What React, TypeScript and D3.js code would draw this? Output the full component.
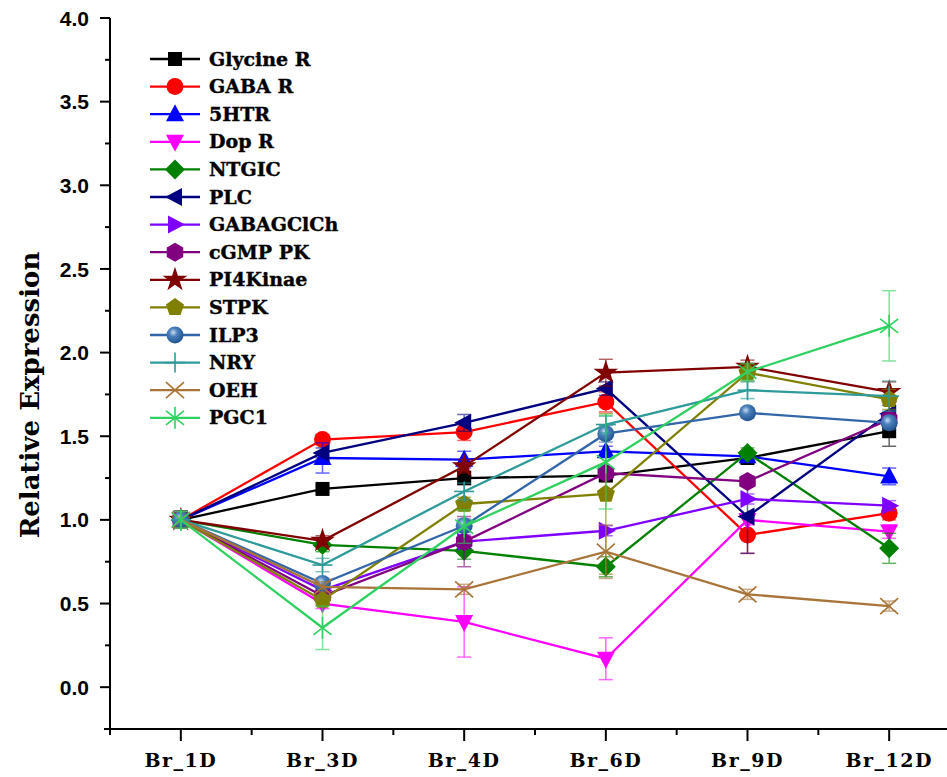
import React from 'react';
import * as d3 from 'd3';

const days = ['Br_1D', 'Br_3D', 'Br_4D', 'Br_6D', 'Br_9D', 'Br_12D'];

const seriesNames = ['Glycine R', 'GABA R', '5HTR', 'Dop R', 'NTGIC', 'PLC', 'GABAGClCh',
  'cGMP PK', 'PI4Kinae', 'STPK', 'ILP3', 'NRY', 'OEH', 'PGC1'];

const glycineR = [1.0, 1.185, 1.25, 1.265, 1.37, 1.53];
const gabaR = [1.0, 1.48, 1.525, 1.705, 0.91, 1.04];
const htr5 = [1.0, 1.37, 1.36, 1.41, 1.38, 1.26];
const dopR = [1.0, 0.5, 0.39, 0.17, 1.0, 0.93];
const ntgic = [1.0, 0.85, 0.815, 0.72, 1.4, 0.83];
const plc = [1.0, 1.4, 1.58, 1.785, 1.02, 1.635];
const gabagclch = [1.0, 0.58, 0.87, 0.935, 1.125, 1.085];
const cgmpPK = [1.0, 0.545, 0.87, 1.28, 1.23, 1.6];
const pi4kinae = [1.0, 0.875, 1.32, 1.88, 1.915, 1.765];
const stpk = [1.0, 0.52, 1.095, 1.155, 1.88, 1.72];
const ilp3 = [1.0, 0.62, 0.965, 1.515, 1.64, 1.58];
const nry = [1.0, 0.73, 1.17, 1.57, 1.775, 1.74];
const oeh = [1.0, 0.6, 0.585, 0.81, 0.555, 0.485];
const pgc1 = [1.0, 0.355, 0.96, 1.345, 1.885, 2.16];

const glycineRErr = [0.05, 0.02, 0.04, 0.03, 0.03, 0.09];
const gabaRErr = [0.05, 0.03, 0.05, 0.06, 0.11, 0.04];
const htr5Err = [0.05, 0.09, 0.05, 0.03, 0.03, 0.05];
const dopRErr = [0.05, 0.03, 0.21, 0.125, 0.03, 0.04];
const ntgicErr = [0.05, 0.04, 0.05, 0.06, 0.03, 0.09];
const plcErr = [0.05, 0.03, 0.05, 0.04, 0.22, 0.05];
const gabagclchErr = [0.05, 0.03, 0.04, 0.03, 0.03, 0.03];
const cgmpPKErr = [0.05, 0.03, 0.15, 0.03, 0.03, 0.04];
const pi4kinaeErr = [0.05, 0.03, 0.04, 0.08, 0.04, 0.06];
const stpkErr = [0.05, 0.03, 0.04, 0.48, 0.05, 0.06];
const ilp3Err = [0.05, 0.03, 0.04, 0.05, 0.03, 0.04];
const nryErr = [0.05, 0.04, 0.05, 0.05, 0.05, 0.09];
const oehErr = [0.05, 0.03, 0.03, 0.16, 0.03, 0.03];
const pgc1Err = [0.05, 0.13, 0.1, 0.28, 0.05, 0.21];

const allValues = [glycineR, gabaR, htr5, dopR, ntgic, plc, gabagclch, cgmpPK, pi4kinae, stpk, ilp3, nry, oeh, pgc1];
const allErrors = [glycineRErr, gabaRErr, htr5Err, dopRErr, ntgicErr, plcErr, gabagclchErr, cgmpPKErr,
  pi4kinaeErr, stpkErr, ilp3Err, nryErr, oehErr, pgc1Err];

const colors = ['#000000', '#ff0000', '#0000ff', '#ff00ff', '#008000', '#000080', '#8000ff',
  '#800080', '#800000', '#808000', '#3366a8', '#2e9a9a', '#a8743a', '#2fd160'];
const shapes = ['square', 'circle', 'triUp', 'triDown', 'diamond', 'triLeft', 'triRight',
  'hexagon', 'star', 'pentagon', 'sphere', 'plus', 'cross', 'asterisk'];

const yTicks = [0, 0.5, 1, 1.5, 2, 2.5, 3, 3.5, 4];

const W = 947;
const H = 777;

const poly = (n: number, r: number, start: number) =>
  d3.range(n).map(i => {
    const a = (start + (360 / n) * i) * Math.PI / 180;
    return `${r * Math.cos(a)},${r * Math.sin(a)}`;
  }).join(' ');

function Marker({ shape, color, x, y }: { shape: string; color: string; x: number; y: number }) {
  const t = `translate(${x},${y})`;
  switch (shape) {
    case 'square':
      return <rect transform={t} x={-7} y={-7} width={14} height={14} fill={color} />;
    case 'circle':
      return <circle transform={t} r={8.5} fill={color} />;
    case 'triUp':
      return <polygon transform={t} points="0,-10 9,7 -9,7" fill={color} />;
    case 'triDown':
      return <polygon transform={t} points="0,10 9,-7 -9,-7" fill={color} />;
    case 'diamond':
      return <polygon transform={t} points="0,-10 10,0 0,10 -10,0" fill={color} />;
    case 'triLeft':
      return <polygon transform={t} points="-10,0 7,-9 7,9" fill={color} />;
    case 'triRight':
      return <polygon transform={t} points="10,0 -7,-9 -7,9" fill={color} />;
    case 'hexagon':
      return <polygon transform={t} points={poly(6, 9.5, -90)} fill={color} />;
    case 'pentagon':
      return <polygon transform={t} points={poly(5, 9.5, -90)} fill={color} />;
    case 'star':
      return <path transform={t} d={d3.symbol(d3.symbolStar, 190)() || ''} fill={color} />;
    case 'sphere':
      return <circle transform={t} r={8.5} fill="url(#sphereGrad)" />;
    case 'plus':
      return (
        <g transform={t} stroke={color} strokeWidth={1.6}>
          <line x1={0} y1={-10} x2={0} y2={10} />
          <line x1={-10} y1={0} x2={10} y2={0} />
        </g>
      );
    case 'cross':
      return (
        <g transform={t} stroke={color} strokeWidth={1.6}>
          <line x1={-9} y1={-8} x2={9} y2={8} />
          <line x1={-9} y1={8} x2={9} y2={-8} />
        </g>
      );
    default:
      return (
        <g transform={t} stroke={color} strokeWidth={1.6}>
          <line x1={0} y1={-11} x2={0} y2={11} />
          <line x1={-9} y1={-7} x2={9} y2={7} />
          <line x1={-9} y1={7} x2={9} y2={-7} />
        </g>
      );
  }
}

export default function App() {
  const x = d3.scaleLinear().domain([-0.5, 5.5]).range([110, 960]);
  const y = d3.scaleLinear().domain([-0.25, 4.0]).range([729, 18]);
  const line = d3.line<number>().x((_, i) => x(i)).y(d => y(d));

  const minorY = d3.range(0.25, 4.0, 0.5);
  const minorX = d3.range(-0.5, 5.6, 1);
  const base = y(-0.25);

  return (
    <svg width={W} height={H} style={{ position: 'absolute', left: 0, top: 0, background: '#fff' }}>
      <defs>
        <radialGradient id="sphereGrad" cx="0.4" cy="0.35" r="0.7">
          <stop offset="0" stopColor="#c8dcf0" />
          <stop offset="0.35" stopColor="#4a80bc" />
          <stop offset="1" stopColor="#1d4f8a" />
        </radialGradient>
      </defs>

      {/* axes */}
      <g stroke="#000" strokeWidth={2}>
        <line x1={x(-0.5)} y1={y(4.0)} x2={x(-0.5)} y2={base + 1} />
        <line x1={x(-0.5) - 6} y1={base} x2={W} y2={base} />
        {yTicks.map(v => <line key={v} x1={x(-0.5) - 10} x2={x(-0.5)} y1={y(v)} y2={y(v)} />)}
        {minorY.map(v => <line key={v} x1={x(-0.5) - 5} x2={x(-0.5)} y1={y(v)} y2={y(v)} />)}
        {days.map((d, i) => <line key={d} x1={x(i)} x2={x(i)} y1={base} y2={base + 12} />)}
        {minorX.map(v => <line key={v} x1={x(v)} x2={x(v)} y1={base} y2={base + 6} />)}
      </g>
      {yTicks.map(v => (
        <text key={v} x={89} y={y(v)} dy="0.36em" textAnchor="end"
          style={{ font: 'bold 21px "Liberation Sans"' }}>{d3.format('.1f')(v)}</text>
      ))}
      {days.map((d, i) => (
        <text key={d} x={x(i)} y={767} textAnchor="middle"
          style={{ font: 'bold 19px "DejaVu Serif"', letterSpacing: 1.5 }}>{d}</text>
      ))}
      <text transform={`translate(39,395) rotate(-90)`} textAnchor="middle"
        style={{ font: 'bold 26px "DejaVu Serif"' }}>Relative Expression</text>

      {/* series */}
      {allValues.map((vals, s) => (
        <g key={seriesNames[s]}>
          <g stroke={colors[s]} strokeWidth={1.5} opacity={0.6}>
            {vals.map((v, i) => {
              const e = allErrors[s][i];
              return (
                <g key={i}>
                  <line x1={x(i)} x2={x(i)} y1={y(v - e)} y2={y(v + e)} />
                  <line x1={x(i) - 7} x2={x(i) + 7} y1={y(v - e)} y2={y(v - e)} />
                  <line x1={x(i) - 7} x2={x(i) + 7} y1={y(v + e)} y2={y(v + e)} />
                </g>
              );
            })}
          </g>
          <path d={line(vals) || ''} fill="none" stroke={colors[s]} strokeWidth={2.3} />
          {vals.map((v, i) => <Marker key={i} shape={shapes[s]} color={colors[s]} x={x(i)} y={y(v)} />)}
        </g>
      ))}

      {/* legend */}
      {seriesNames.map((n, s) => {
        const ly = 59 + s * 27.6;
        return (
          <g key={n}>
            <line x1={150} x2={200} y1={ly} y2={ly} stroke={colors[s]} strokeWidth={2.3} />
            <Marker shape={shapes[s]} color={colors[s]} x={175} y={ly} />
            <text x={209} y={ly} dy="0.35em" stroke="#000" strokeWidth={0.4}
              style={{ font: 'bold 19px "DejaVu Serif"' }}>{n}</text>
          </g>
        );
      })}
    </svg>
  );
}
